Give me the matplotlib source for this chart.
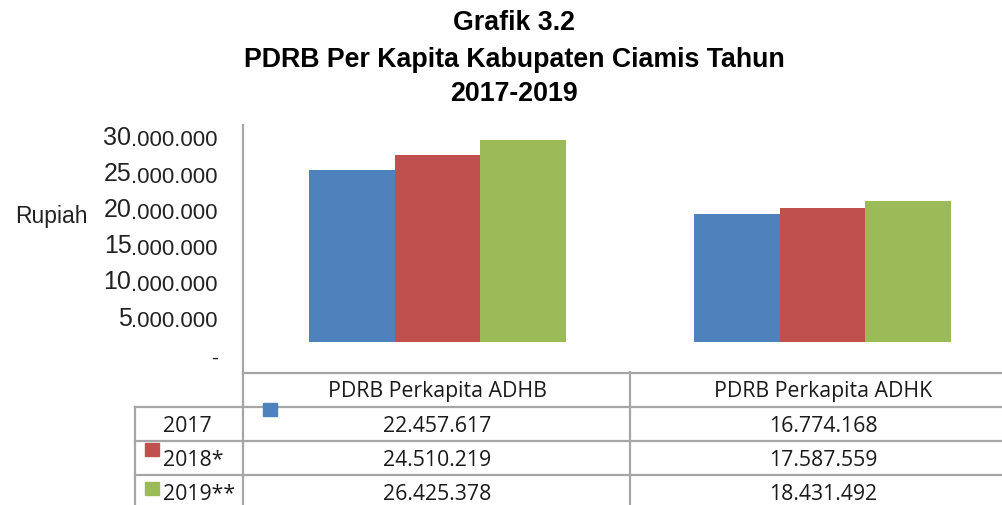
import matplotlib
matplotlib.use("Agg")
import matplotlib.pyplot as plt
import matplotlib.transforms as mtransforms
from matplotlib.patches import Rectangle
from matplotlib.lines import Line2D

# data
categories = ["PDRB Perkapita ADHB", "PDRB Perkapita ADHK"]
years = ["2017", "2018*", "2019**"]
adhb = [22457617, 24510219, 26425378]
adhk = [16774168, 17587559, 18431492]
colors = ["#4F81BD", "#C0504D", "#9BBB59"]
ytick_values = [0, 5000000, 10000000, 15000000, 20000000, 25000000, 30000000]

W, H = 1003, 505
fig = plt.figure(figsize=(W / 100, H / 100), dpi=100)


def fx(x):
    return x / W


def fy(y):
    return 1 - y / H


def fmt(v):
    return f"{v:,}".replace(",", ".")


# title
title_font = dict(family="Liberation Sans", weight="bold", fontsize=19.3,
                  ha="center", va="center")
fig.text(fx(514), fy(23), "Grafik 3.2", **title_font)
fig.text(fx(514), fy(60), "PDRB Per Kapita Kabupaten Ciamis Tahun", **title_font)
fig.text(fx(514), fy(94), "2017-2019", **title_font)

# bars
ax = fig.add_axes([fx(245), fy(342), 770 / W, 217 / H])
width = 0.222
series = list(zip(adhb, adhk))
for i, vals in enumerate(series):
    xs = [c + (i - 1) * width for c in range(len(categories))]
    ax.bar(xs, vals, width=width, color=colors[i], edgecolor="none")
ax.set_xlim(-0.5, 1.5)
ax.set_ylim(0, 28.4e6)
ax.axis("off")

# y tick labels (Excel's axis sits a bit below the bars)
tax = fig.add_axes([0, fy(358), 1, 217 / H])
tax.set_ylim(0, 30e6)
tax.axis("off")
trans = mtransforms.blended_transform_factory(fig.transFigure, tax.transData)
for v in ytick_values:
    if v == 0:
        tax.text(fx(218), v, "-", transform=trans, ha="right", va="center",
                 family="Liberation Sans", fontsize=15, color="#222222")
        continue
    s = fmt(v)
    head, tail = s.split(".", 1)
    t = tax.text(fx(218), v, "." + tail, transform=trans, ha="right",
                 va="center", family="Liberation Sans", fontsize=16,
                 color="#222222")
    tax.annotate(head, xy=(0, 0.08), xycoords=t, ha="right", va="bottom",
                 family="Liberation Sans", fontsize=18, color="#222222")

fig.text(fx(15), fy(217), "Rupiah", ha="left", va="center",
         family="Liberation Sans", fontsize=16.5, color="#222222")

# table grid
gray = "#A6A6A6"
grid = [
    ((243, 243), (125, 505)),
    ((135, 135), (407, 505)),
    ((630, 630), (372, 505)),
    ((243, 1003), (373, 373)),
    ((135, 1003), (407, 407)),
    ((135, 1003), (441, 441)),
    ((135, 1003), (475, 475)),
]
for (x0, x1), (y0, y1) in grid:
    fig.add_artist(Line2D([fx(x0), fx(x1)], [fy(y0), fy(y1)], color=gray,
                          lw=1.6, transform=fig.transFigure))

tfont = dict(family="Open Sans", fontsize=15.3, color="#1a1a1a", va="center")
col_x = [437, 823]
row_y = [426, 460, 494]
for cx, cat in zip(col_x, categories):
    fig.text(fx(cx), fy(391), cat, ha="center", **tfont)
for j, (yr, ry) in enumerate(zip(years, row_y)):
    fig.text(fx(163), fy(ry), yr, ha="left", **tfont)
    fig.text(fx(col_x[0]), fy(ry), fmt(adhb[j]), ha="center", **tfont)
    fig.text(fx(col_x[1]), fy(ry), fmt(adhk[j]), ha="center", **tfont)

# legend keys, drawn over the grid lines
keys = [(263, 403), (145, 443), (145, 482)]
for (kx, ky), c in zip(keys, colors):
    fig.add_artist(Rectangle((fx(kx), fy(ky + 13)), 14 / W, 13 / H,
                             color=c, transform=fig.transFigure, zorder=5))

fig.savefig("out.png", dpi=100)
